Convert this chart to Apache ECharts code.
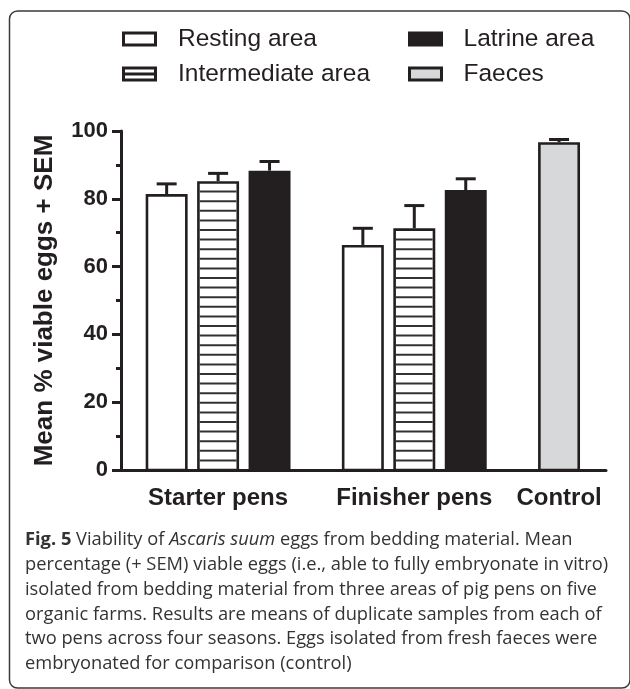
<!DOCTYPE html>
<html>
<head>
<meta charset="utf-8">
<script src="https://cdn.jsdelivr.net/npm/echarts@6/dist/echarts.min.js"></script>
<style>
  html, body { margin: 0; padding: 0; background: #fff; }
  #chart { width: 630px; height: 689px; }
</style>
</head>
<body>
<div id="chart"></div>
<script>
// Viability of Ascaris suum eggs: mean % viable eggs (+ SEM) per pen area
const categories = ['Starter pens', 'Finisher pens', 'Control'];
const areaNames = ['Resting area', 'Intermediate area', 'Latrine area', 'Faeces'];

const restingMean      = [81.4, 66.4, null];
const restingSem       = [3.0, 4.9, null];
const intermediateMean = [85.2, 71.3, null];
const intermediateSem  = [2.3, 6.7, null];
const latrineMean      = [88.3, 82.6, null];
const latrineSem       = [2.7, 3.3, null];
const faecesMean       = [null, null, 96.7];
const faecesSem        = [null, null, 0.8];

const yMin = 0, yMax = 100, yStep = 20;

// ---- layout of bar slots along a plain value axis ----
const INK = '#231f20';
const BAR_W = 42, GAP = 9.5, GROUP_GAP = 51.4, LEAD = 24.7, TRAIL = 26;
const barsPerGroup = [3, 3, 1];
const groupStart = [];
(function () {
  let x = LEAD;
  barsPerGroup.forEach(function (n) {
    groupStart.push(x);
    x += n * BAR_W + (n - 1) * GAP + GROUP_GAP;
  });
})();
const xMax = groupStart[2] + BAR_W + TRAIL;
function slotCenter(g, s) { return groupStart[g] + s * (BAR_W + GAP) + BAR_W / 2; }
const groupCenters = barsPerGroup.map(function (n, g) {
  return groupStart[g] + (n * BAR_W + (n - 1) * GAP) / 2;
});

function toItems(means, sems) {
  const out = [];
  means.forEach(function (m, g) { if (m != null) out.push([g, m, sems[g]]); });
  return out;
}

const areas = [
  { name: areaNames[0], slot: 0, fill: '#ffffff', stripes: false, data: toItems(restingMean, restingSem) },
  { name: areaNames[1], slot: 1, fill: '#ffffff', stripes: true,  data: toItems(intermediateMean, intermediateSem) },
  { name: areaNames[2], slot: 2, fill: INK,       stripes: false, data: toItems(latrineMean, latrineSem) },
  { name: areaNames[3], slot: 0, fill: '#d7d8da', stripes: false, data: toItems(faecesMean, faecesSem) }
];

function makeRenderer(area) {
  return function (params, api) {
    const g = api.value(0), v = api.value(1), e = api.value(2);
    const cx = slotCenter(g, area.slot);
    const lt = api.coord([cx - BAR_W / 2, v]);
    const rb = api.coord([cx + BAR_W / 2, 0]);
    const top = api.coord([cx, v + e]);
    const pc = api.coord([cx, v])[0];
    const lw = 2.6;
    const kids = [];
    kids.push({
      type: 'rect',
      shape: { x: lt[0] + lw / 2, y: lt[1] + lw / 2, width: rb[0] - lt[0] - lw, height: rb[1] - lt[1] - lw / 2 },
      style: { fill: area.fill, stroke: INK, lineWidth: lw }
    });
    if (area.stripes) {
      const step = 9.6;
      for (let y = rb[1] - step; y > lt[1] + 5; y -= step) {
        kids.push({
          type: 'line',
          shape: { x1: lt[0] + lw, y1: y, x2: rb[0] - lw, y2: y },
          style: { stroke: '#333', lineWidth: 2 }
        });
      }
    }
    kids.push({
      type: 'line',
      shape: { x1: pc, y1: lt[1], x2: pc, y2: top[1] },
      style: { stroke: INK, lineWidth: 3 }
    });
    kids.push({
      type: 'line',
      shape: { x1: pc - 10, y1: top[1], x2: pc + 10, y2: top[1] },
      style: { stroke: INK, lineWidth: 3 }
    });
    return { type: 'group', children: kids };
  };
}

// legend glyphs: outline box, outline box with a middle rule
const iconOpen = 'path://M0,0H35V15H0Z M3,3V12H32V3Z';
const iconRuled = 'path://M0,0H35V15H0Z M3,3V6H32V3Z M3,9V12H32V9Z';

const legendText = { fontFamily: 'Liberation Sans, Arial, sans-serif', fontSize: 24.5, color: INK, lineHeight: 26 };

const captionFont = 'Open Sans, sans-serif';
const captionSize = 18.3;
const captionLines = [
  '{b|Fig. 5} Viability of {i|Ascaris suum} eggs from bedding material. Mean',
  'percentage (+ SEM) viable eggs (i.e., able to fully embryonate in vitro)',
  'isolated from bedding material from three areas of pig pens on five',
  'organic farms. Results are means of duplicate samples from each of',
  'two pens across four seasons. Eggs isolated from fresh faeces were',
  'embryonated for comparison (control)'
];

const chart = echarts.init(document.getElementById('chart'), null, { renderer: 'canvas' });

chart.setOption({
  animation: false,
  backgroundColor: '#ffffff',
  grid: { left: 121, right: 24, top: 131, bottom: 219 },
  legend: [
    {
      orient: 'vertical', left: 122, top: 26, padding: 0, itemWidth: 35, itemHeight: 15, itemGap: 9,
      selectedMode: false,
      textStyle: Object.assign({ padding: [0, 0, 0, 16] }, legendText),
      data: [
        { name: areaNames[0], icon: iconOpen, itemStyle: { color: INK, borderWidth: 0 } },
        { name: areaNames[1], icon: iconRuled, itemStyle: { color: INK, borderWidth: 0 } }
      ]
    },
    {
      orient: 'vertical', left: 408, top: 26, padding: 0, itemWidth: 32, itemHeight: 12, itemGap: 9,
      selectedMode: false,
      textStyle: Object.assign({ padding: [0, 0, 0, 17] }, legendText),
      data: [
        { name: areaNames[2], icon: 'rect', itemStyle: { color: INK, borderColor: INK, borderWidth: 3 } },
        { name: areaNames[3], icon: 'rect', itemStyle: { color: '#d7d8da', borderColor: INK, borderWidth: 3 } }
      ]
    }
  ],
  xAxis: {
    type: 'value', min: 0, max: xMax,
    splitLine: { show: false },
    axisTick: { show: false },
    axisLine: { show: true, onZero: false, lineStyle: { color: INK, width: 3 } },
    axisLabel: {
      customValues: groupCenters,
      formatter: function (val) {
        const i = groupCenters.findIndex(function (c) { return Math.abs(c - val) < 0.5; });
        return i >= 0 ? categories[i] : '';
      },
      margin: 16,
      fontFamily: 'Liberation Sans, Arial, sans-serif', fontWeight: 'bold', fontSize: 24, color: INK
    }
  },
  yAxis: {
    type: 'value', min: yMin, max: yMax, interval: yStep,
    name: 'Mean % viable eggs + SEM',
    nameLocation: 'middle', nameRotate: 90, nameGap: 63,
    nameTextStyle: { fontFamily: 'Liberation Sans, Arial, sans-serif', fontWeight: 'bold', fontSize: 26, color: INK },
    splitLine: { show: false },
    axisLine: { show: true, lineStyle: { color: INK, width: 3 } },
    axisTick: { show: true, length: 9, lineStyle: { color: INK, width: 3 } },
    minorTick: { show: true, splitNumber: 2, length: 5, lineStyle: { color: INK, width: 3 } },
    axisLabel: { margin: 13, fontFamily: 'Liberation Sans, Arial, sans-serif', fontWeight: 'bold', fontSize: 22, color: INK }
  },
  series: areas.map(function (a) {
    return {
      type: 'custom', name: a.name,
      itemStyle: { color: a.fill === '#ffffff' ? INK : a.fill },
      renderItem: makeRenderer(a),
      encode: { x: 0, y: 1 },
      data: a.data,
      z: 1
    };
  }),
  graphic: [
    {
      type: 'rect', z: 0, silent: true,
      shape: { x: 9.5, y: 11, width: 620.5, height: 677, r: 8 },
      style: { fill: 'none', stroke: '#3a3a3a', lineWidth: 1.5 }
    }
  ].concat(captionLines.map(function (t, k) {
    return {
      type: 'text', silent: true, left: 25, top: 531 + k * 24.8,
      style: {
        text: t, fill: '#333', fontFamily: captionFont, fontSize: captionSize,
        rich: {
          b: { fontFamily: captionFont, fontSize: captionSize, fontWeight: 'bold', fill: '#333' },
          i: { fontFamily: captionFont, fontSize: captionSize, fontStyle: 'italic', fill: '#333' }
        }
      }
    };
  }))
});
</script>
</body>
</html>
